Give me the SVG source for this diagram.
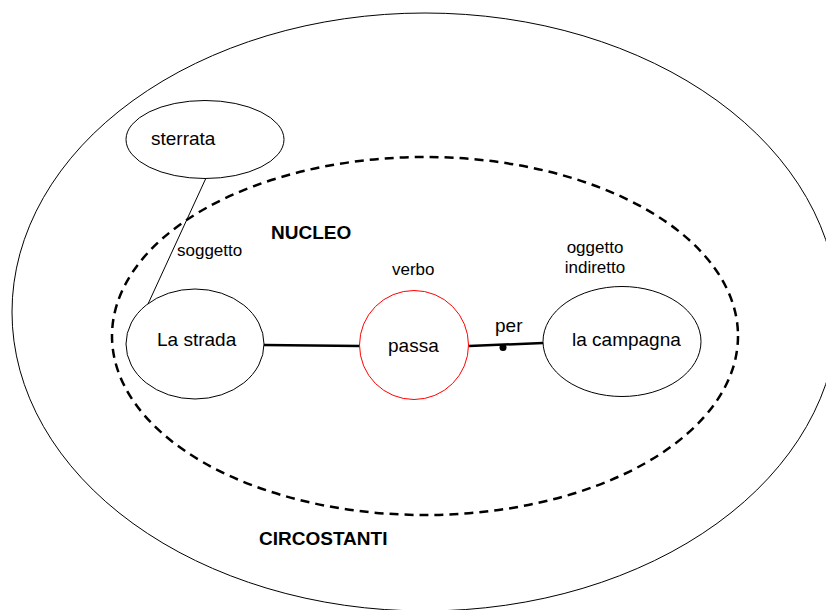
<svg xmlns="http://www.w3.org/2000/svg" width="826" height="610" viewBox="0 0 826 610">
<style>
.t{font-family:"Liberation Sans",Arial,sans-serif;fill:#000}
.big{font-size:19px}
.small{font-size:17px}
.b{font-size:19px;font-weight:bold}
.node{fill:#fff;stroke:#000;stroke-width:1}
</style>
<rect width="826" height="610" fill="#fff"/>
<g id="circostanti">
<ellipse cx="425" cy="312" rx="413" ry="299" fill="none" stroke="#000" stroke-width="1"/>
<text class="t b" x="259" y="545">CIRCOSTANTI</text>
</g>
<g id="nucleo">
<ellipse cx="425" cy="336" rx="313" ry="179" fill="none" stroke="#000" stroke-width="2.5" stroke-dasharray="9,6"/>
<text class="t b" x="271" y="239">NUCLEO</text>
</g>
<g id="connectors">
<line x1="206" y1="178" x2="148" y2="304" stroke="#000" stroke-width="1"/>
<line x1="264" y1="345" x2="360" y2="346" stroke="#000" stroke-width="2.5"/>
<line x1="469" y1="346" x2="543" y2="343" stroke="#000" stroke-width="2.5"/>
<circle cx="503" cy="347.5" r="3.5" fill="#000"/>
<text class="t small" x="177" y="256">soggetto</text>
<text class="t big" x="495" y="332">per</text>
</g>
<g id="sterrata">
<ellipse class="node" cx="205" cy="139.5" rx="79" ry="39"/>
<text class="t big" x="151" y="145">sterrata</text>
</g>
<g id="la-strada">
<ellipse class="node" cx="195" cy="344" rx="69" ry="55"/>
<text class="t big" x="157" y="346">La strada</text>
</g>
<g id="passa">
<circle cx="414" cy="345" r="54.5" fill="#fff" stroke="#ff0000" stroke-width="1"/>
<text class="t big" x="388" y="352">passa</text>
<text class="t small" x="392" y="275">verbo</text>
</g>
<g id="la-campagna">
<ellipse class="node" cx="622" cy="341.5" rx="79" ry="55"/>
<text class="t big" x="572" y="346">la campagna</text>
<text class="t small" x="595" y="253" text-anchor="middle">oggetto</text>
<text class="t small" x="595" y="273" text-anchor="middle">indiretto</text>
</g>
</svg>
